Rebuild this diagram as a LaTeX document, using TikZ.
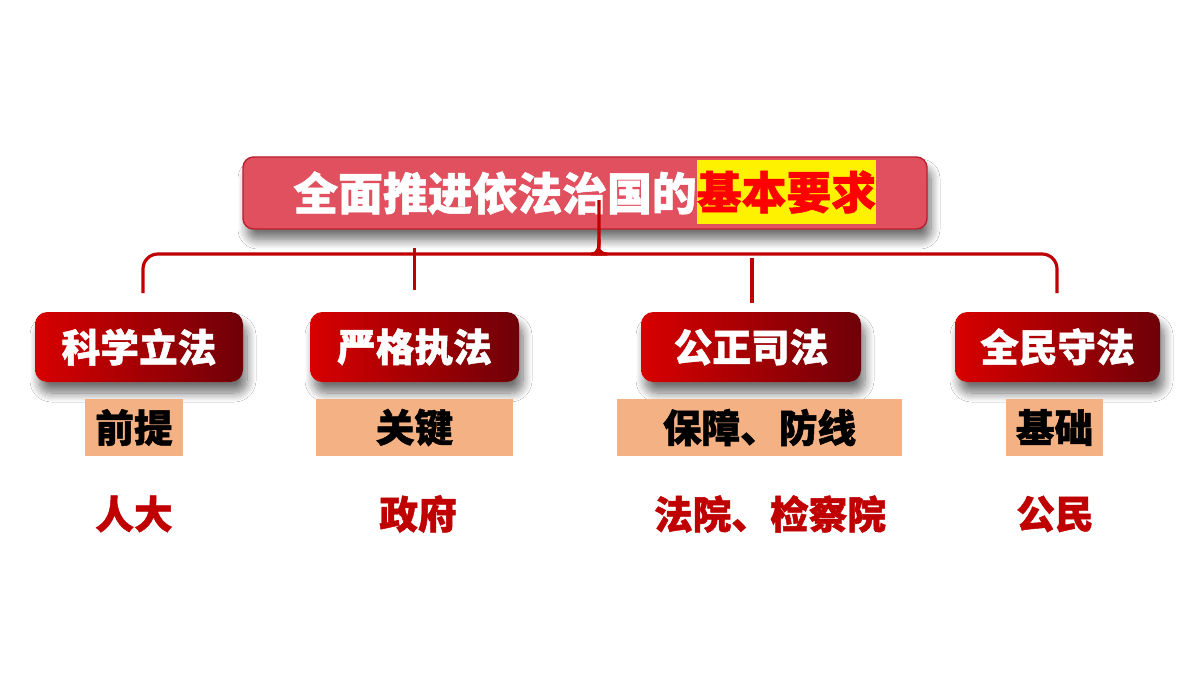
\documentclass[tikz,border=0pt]{standalone}
\usepackage{fontspec}
\newfontfamily\cjk{Noto Sans CJK SC}[BoldFeatures={FakeBold=1.2}]
\usepackage{tikz}
\usetikzlibrary{shadows, shadows.blur}
\definecolor{tred}{HTML}{E1505F}
\definecolor{tborder}{HTML}{B8202E}
\definecolor{bredL}{HTML}{D80000}
\definecolor{bredR}{HTML}{6E0008}
\definecolor{bpeach}{HTML}{F4B183}
\definecolor{bdark}{HTML}{C00000}
\newcommand{\titlefont}{\cjk\bfseries\fontsize{25.5}{30}\selectfont}
\newcommand{\itemfont}{\cjk\bfseries\fontsize{22}{26}\selectfont}
\tikzstyle{titlebox} = [rectangle, draw=tborder, fill=tred, thick, rounded corners=6pt, minimum width=13.68cm, minimum height=1.44cm, blur shadow={shadow xshift=0.08cm, shadow yshift=-0.22cm, shadow opacity=55, shadow blur radius=0.18cm, shadow blur steps=10}]
\tikzstyle{block} = [rectangle, rounded corners=7pt, left color=bredL, right color=bredR, text=white, font=\itemfont, minimum height=1.4cm, blur shadow={shadow xshift=0.08cm, shadow yshift=-0.22cm, shadow opacity=55, shadow blur radius=0.18cm, shadow blur steps=10}]
\tikzstyle{tag} = [rectangle, fill=bpeach, font=\itemfont, minimum height=1.14cm, inner sep=0pt]
\tikzstyle{who} = [text=bdark, font=\itemfont]
\tikzstyle{bracket} = [draw=bdark, line width=1.8pt, line join=round]

\begin{document}
\begin{tikzpicture}
\path[use as bounding box, fill=white] (0,0) rectangle (24,13.5);

%% title
\node[titlebox] at (11.7, 9.64) (title) {};
\node[text=white, font=\titlefont, anchor=east, inner sep=0pt] at (13.94, 9.64) (titletext) {全面推进依法治国的};
\node[fill=yellow, text=red, font=\titlefont, minimum width=3.58cm, minimum height=1.28cm, inner sep=0pt] at (15.73, 9.66) (titlekey) {基本要求};

%% brace
\coordinate (bl) at (2.86, 7.64);
\coordinate (br) at (21.14, 7.64);
\coordinate (tip) at (11.98, 9.5);
\path[bracket, rounded corners=0.3cm] (bl) |- (11.84, 8.42) to[out=0, in=-90] (11.98, 8.72) -- (tip);
\path[bracket, rounded corners=0.3cm] (br) |- (12.12, 8.42) to[out=180, in=-90] (11.98, 8.72);

%% four parts
\node[block, minimum width=4.16cm] at (2.78, 6.56) (lifa) {科学立法};
\node[block, minimum width=4.18cm] at (8.29, 6.56) (zhifa) {严格执法};
\node[block, minimum width=4.4cm] at (15.02, 6.56) (sifa) {公正司法};
\node[block, minimum width=4.1cm] at (21.15, 6.56) (shoufa) {全民守法};

\path[bracket] ([yshift=0.44cm]zhifa.north) -- ([yshift=1.28cm]zhifa.north);
\path[bracket] ([xshift=0.02cm, yshift=0.18cm]sifa.north) -- ([xshift=0.02cm, yshift=1.08cm]sifa.north);

% roles
\node[tag, minimum width=1.96cm] at (2.68, 4.95) (qianti) {前提};
\node[tag, minimum width=3.94cm] at (8.29, 4.95) (guanjian) {关键};
\node[tag, minimum width=5.7cm] at (15.19, 4.95) (baozhang) {保障、防线};
\node[tag, minimum width=1.94cm] at (21.09, 4.95) (jichu) {基础};

% subjects
\node[who] at (2.68, 3.22) (renda) {人大};
\node[who] at (8.36, 3.22) (zhengfu) {政府};
\node[who] at (15.4, 3.22) (fayuan) {法院、检察院};
\node[who] at (21.1, 3.22) (gongmin) {公民};
\end{tikzpicture}
\end{document}
